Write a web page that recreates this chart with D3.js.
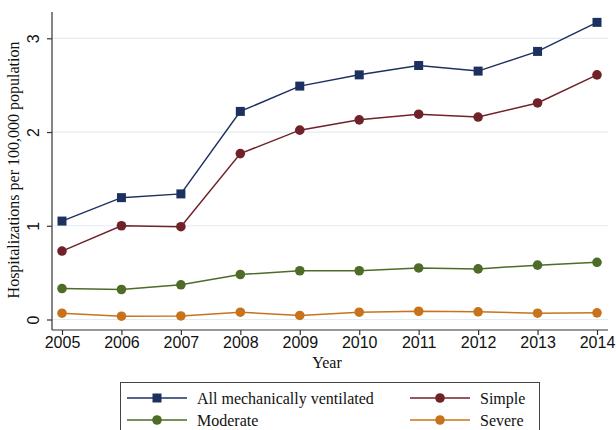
<!DOCTYPE html>
<html>
<head>
<meta charset="utf-8">
<script src="https://cdn.jsdelivr.net/npm/d3@7"></script>
<style>
  body { margin: 0; background: #fff; }
  svg { display: block; font-family: "Liberation Serif", "Times New Roman", serif; }
</style>
</head>
<body>
<svg id="chart" width="616" height="430"></svg>
<script>
// data
const years = [2005, 2006, 2007, 2008, 2009, 2010, 2011, 2012, 2013, 2014];
const allVent = [1.05, 1.30, 1.34, 2.22, 2.49, 2.61, 2.71, 2.65, 2.86, 3.17];
const simple = [0.73, 1.00, 0.99, 1.77, 2.02, 2.13, 2.19, 2.16, 2.31, 2.61];
const moderate = [0.33, 0.32, 0.37, 0.48, 0.52, 0.52, 0.55, 0.54, 0.58, 0.61];
const severe = [0.067, 0.035, 0.038, 0.078, 0.043, 0.078, 0.088, 0.082, 0.067, 0.071];
const yTicks = [0, 1, 2, 3];

const series = [
  { name: "All mechanically ventilated", values: allVent, color: "#1d3160", symbol: "square" },
  { name: "Simple", values: simple, color: "#6f2329", symbol: "circle" },
  { name: "Moderate", values: moderate, color: "#4e6c27", symbol: "circle" },
  { name: "Severe", values: severe, color: "#c8731b", symbol: "circle" }
];

const svg = d3.select("#chart");
const plotLeft = 52, plotRight = 608, plotTop = 12, plotBottom = 330;
const fontSize = 16;

const x = d3.scaleLinear().domain([2005, 2014]).range([62, 597]);
const y = d3.scaleLinear().domain([0, 3]).range([319.5, 38.3]);

// grid lines
svg.append("g")
  .selectAll("line")
  .data(yTicks)
  .enter().append("line")
  .attr("x1", plotLeft + 1).attr("x2", plotRight)
  .attr("y1", d => y(d)).attr("y2", d => y(d))
  .attr("stroke", "#e3ecf0")
  .attr("stroke-width", 1.2);

// y axis
const yAxis = svg.append("g")
  .attr("transform", "translate(" + plotLeft + ",0)")
  .call(d3.axisLeft(y).tickValues(yTicks).tickSize(5).tickSizeOuter(0).tickFormat(d3.format("d")));
yAxis.select(".domain").remove();
yAxis.append("line")
  .attr("x1", 0).attr("x2", 0).attr("y1", plotTop).attr("y2", plotBottom)
  .attr("stroke", "#333").attr("stroke-width", 1.2);
yAxis.selectAll(".tick line").attr("stroke", "#333").attr("stroke-width", 1.2);
yAxis.selectAll(".tick text")
  .attr("font-size", fontSize)
  .attr("fill", "#111")
  .attr("x", null).attr("dy", null)
  .attr("text-anchor", "middle")
  .attr("transform", "translate(-13,0) rotate(-90)");

// x axis
const xAxis = svg.append("g")
  .attr("transform", "translate(0," + plotBottom + ")")
  .call(d3.axisBottom(x).tickValues(years).tickSize(5).tickSizeOuter(0).tickFormat(d3.format("d")));
xAxis.select(".domain").remove();
xAxis.append("line")
  .attr("x1", plotLeft).attr("x2", plotRight).attr("y1", 0).attr("y2", 0)
  .attr("stroke", "#333").attr("stroke-width", 1.2);
xAxis.selectAll(".tick line").attr("stroke", "#333").attr("stroke-width", 1.2);
xAxis.selectAll(".tick text")
  .attr("font-size", fontSize)
  .attr("fill", "#111")
  .attr("y", 7);

// axis titles
svg.append("text")
  .attr("x", (plotLeft + plotRight) / 2 - 3).attr("y", 368)
  .attr("text-anchor", "middle")
  .attr("font-size", fontSize).attr("fill", "#111")
  .text("Year");

svg.append("text")
  .attr("transform", "translate(19,170) rotate(-90)")
  .attr("text-anchor", "middle")
  .attr("font-size", fontSize).attr("fill", "#111")
  .text("Hospitalizations per 100,000 population");

// lines and markers
const line = d3.line()
  .x((d, i) => x(years[i]))
  .y(d => y(d));

series.forEach(s => {
  const g = svg.append("g");
  g.append("path")
    .datum(s.values)
    .attr("d", line)
    .attr("fill", "none")
    .attr("stroke", s.color)
    .attr("stroke-width", 1.5);
  if (s.symbol === "square") {
    g.selectAll("rect")
      .data(s.values)
      .enter().append("rect")
      .attr("x", (d, i) => x(years[i]) - 4.5)
      .attr("y", d => y(d) - 4.5)
      .attr("width", 9).attr("height", 9)
      .attr("fill", s.color);
  } else {
    g.selectAll("circle")
      .data(s.values)
      .enter().append("circle")
      .attr("cx", (d, i) => x(years[i]))
      .attr("cy", d => y(d))
      .attr("r", 4.8)
      .attr("fill", s.color);
  }
});

// legend
const legend = svg.append("g");
legend.append("rect")
  .attr("x", 120.5).attr("y", 382.5)
  .attr("width", 419).attr("height", 60)
  .attr("fill", "#fff")
  .attr("stroke", "#444")
  .attr("stroke-width", 1);

const legendPos = [
  { x: 127, y: 398 },
  { x: 410, y: 398 },
  { x: 127, y: 420 },
  { x: 410, y: 420 }
];

series.forEach((s, i) => {
  const p = legendPos[i];
  const item = legend.append("g").attr("transform", "translate(" + p.x + "," + p.y + ")");
  item.append("line")
    .attr("x1", 0).attr("x2", 60).attr("y1", 0).attr("y2", 0)
    .attr("stroke", s.color).attr("stroke-width", 1.5);
  if (s.symbol === "square") {
    item.append("rect")
      .attr("x", 25.5).attr("y", -4.5).attr("width", 9).attr("height", 9)
      .attr("fill", s.color);
  } else {
    item.append("circle")
      .attr("cx", 30).attr("cy", 0).attr("r", 4.8)
      .attr("fill", s.color);
  }
  item.append("text")
    .attr("x", 70).attr("y", 0).attr("dy", "0.35em")
    .attr("font-size", fontSize).attr("fill", "#111")
    .text(s.name);
});
</script>
</body>
</html>
